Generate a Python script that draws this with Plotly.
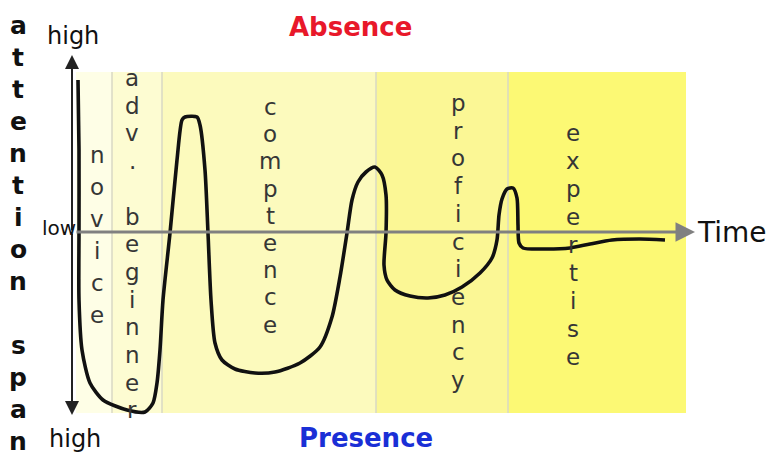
import plotly.graph_objects as go

# Attention curve: time runs right from the vertical axis,
# attention is measured up (absence) / down (presence) from the Time axis.
time = [6, 7, 7, 7, 10, 18, 31, 55, 73, 81, 85, 88, 91, 98, 105, 110, 113, 125, 128,
        133, 136, 139, 143, 150, 163, 183, 203, 228, 248, 260, 268, 275, 280, 286, 294,
        303, 310, 314, 314, 312, 315, 323, 338, 356, 373, 390, 408, 420, 425, 427, 430,
        435, 441, 445, 446, 447, 451, 473, 498, 518, 540, 568, 593]
attention = [152, 82, 0, -68, -118, -151, -168, -178, -180, -171, -151, -118, -68, -1,
             72, 112, 115, 115, 107, 62, -1, -68, -111, -128, -137, -141, -140, -131,
             -115, -85, -45, -1, 32, 50, 60, 65, 57, 37, -1, -33, -48, -58, -64, -66,
             -63, -55, -41, -26, -8, 17, 33, 43, 44, 34, 7, -11, -16, -17, -16, -12,
             -8, -7, -8]

# Skill stages shown as vertical bands
stage_names = ["novice", "adv. beginner", "comptence", "proficiency", "expertise"]
stage_edges = [4, 40, 90, 304, 436, 614]
stage_colors = ["#fefee6", "#fdfcd2", "#fcfabd", "#fbf795", "#fcf974"]
stage_label_x = [25, 60, 198, 386, 501]
stage_label_top = [77, 154, 125, 129, 99]
stage_label_step = [32, 27.7, 27.2, 27.7, 28]

band_top, band_bottom = 160, -181

axis_title = "attention span"
x_label = "Time"
top_label, bottom_label = "Absence", "Presence"
level_labels = ["high", "low", "high"]

FONT = "DejaVu Sans"

fig = go.Figure()

shapes = []
for i, name in enumerate(stage_names):
    shapes.append(dict(type="rect", xref="x", yref="y",
                       x0=stage_edges[i], x1=stage_edges[i + 1],
                       y0=band_bottom, y1=band_top,
                       fillcolor=stage_colors[i], line_width=0, layer="below"))
for edge in stage_edges[1:-1]:
    shapes.append(dict(type="line", xref="x", yref="y", x0=edge, x1=edge,
                       y0=band_bottom, y1=band_top,
                       line=dict(color="#d8d8c4", width=1.5), layer="below"))

fig.add_trace(go.Scatter(
    x=time, y=attention, mode="lines",
    line=dict(color="#111111", width=3.6, shape="spline", smoothing=0.7),
    hoverinfo="skip", showlegend=False))

annotations = []

# stage names written vertically, one letter per line
for i, name in enumerate(stage_names):
    for j, ch in enumerate(name):
        if ch == " ":
            continue
        annotations.append(dict(
            x=stage_label_x[i], y=stage_label_top[i] - j * stage_label_step[i],
            xref="x", yref="y", text=ch, showarrow=False,
            font=dict(family=FONT, size=23, color="#363636"),
            xanchor="center", yanchor="middle"))

# vertical axis title, stacked letters
for j, ch in enumerate(axis_title):
    if ch == " ":
        continue
    annotations.append(dict(
        x=-54, y=207 - j * 32, xref="x", yref="y", text="<b>%s</b>" % ch,
        showarrow=False, font=dict(family=FONT, size=25, color="#111111"),
        xanchor="center", yanchor="middle"))

# axes drawn as arrows
arrow_common = dict(xref="x", yref="y", axref="x", ayref="y", text="", showarrow=True)
annotations += [
    dict(x=0, y=177, ax=0, ay=0, arrowhead=2, arrowsize=1.4, arrowwidth=2,
         arrowcolor="#222222", **arrow_common),
    dict(x=0, y=-183, ax=0, ay=0, arrowhead=2, arrowsize=1.4, arrowwidth=2,
         arrowcolor="#222222", **arrow_common),
    dict(x=623, y=0, ax=3, ay=0, arrowhead=2, arrowsize=1.3, arrowwidth=3,
         arrowcolor="#808080", **arrow_common),
]

annotations += [
    dict(x=660, y=0, xref="x", yref="y", text=x_label, showarrow=False,
         font=dict(family=FONT, size=28, color="#111111"), xanchor="center", yanchor="middle"),
    dict(x=1, y=196, xref="x", yref="y", text=level_labels[0], showarrow=False,
         font=dict(family=FONT, size=24, color="#111111"), xanchor="center", yanchor="middle"),
    dict(x=-13, y=4, xref="x", yref="y", text=level_labels[1], showarrow=False,
         font=dict(family=FONT, size=20, color="#111111"), xanchor="center", yanchor="middle"),
    dict(x=3, y=-207, xref="x", yref="y", text=level_labels[2], showarrow=False,
         font=dict(family=FONT, size=24, color="#111111"), xanchor="center", yanchor="middle"),
    dict(x=278, y=205, xref="x", yref="y", text="<b>%s</b>" % top_label, showarrow=False,
         font=dict(family=FONT, size=26, color="#e8182a"), xanchor="center", yanchor="middle"),
    dict(x=294, y=-206, xref="x", yref="y", text="<b>%s</b>" % bottom_label, showarrow=False,
         font=dict(family=FONT, size=26, color="#1a2fd6"), xanchor="center", yanchor="middle"),
]

fig.update_layout(
    width=770, height=455,
    margin=dict(l=0, r=0, t=0, b=0),
    paper_bgcolor="white", plot_bgcolor="white",
    xaxis=dict(range=[-72, 698], visible=False, fixedrange=True),
    yaxis=dict(range=[-223, 232], visible=False, fixedrange=True),
    shapes=shapes, annotations=annotations, showlegend=False,
)

fig.write_html("out.html")
